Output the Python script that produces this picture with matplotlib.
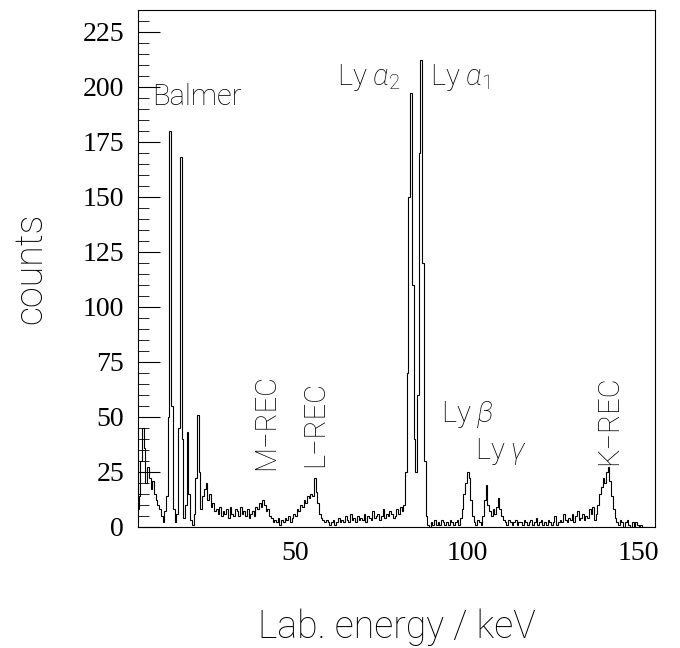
import numpy as np
import matplotlib
matplotlib.use("Agg")
import matplotlib.pyplot as plt
from matplotlib.ticker import MultipleLocator

# spectrum: counts per 0.5 keV bin, first bin starts at 4.0 keV
bin_start = 4.0
bin_width = 0.5
counts = [
    8, 14, 30, 45, 36, 20, 27, 22, 17, 21,        # 4 - 9
    15, 12, 10, 8, 5, 2, 7, 14, 50, 180,          # 9 - 14
    55, 8, 2, 6, 45, 168, 40, 4, 10, 43,          # 14 - 19
    15, 3, 1, 6, 22, 51, 25, 8, 14, 17,           # 19 - 24
    20, 12, 15, 9, 11, 7, 8, 6, 9, 5,             # 24 - 29
    7, 6, 8, 4, 9, 6, 5, 8, 7, 5,                 # 29 - 34
    9, 6, 7, 5, 8, 4, 6, 7, 5, 9,                 # 34 - 39
    8, 11, 9, 12, 10, 7, 8, 5, 4, 2,              # 39 - 44
    3, 2, 4, 1, 3, 2, 4, 3, 5, 2,                 # 44 - 49
    4, 6, 5, 8, 7, 10, 9, 12, 11, 14,             # 49 - 54
    13, 15, 14, 22, 16, 11, 6, 4, 3, 2,           # 54 - 59
    3, 2, 1, 2, 3, 1, 2, 4, 2, 3,                 # 59 - 64
    2, 5, 3, 2, 6, 3, 4, 2, 5, 3,                 # 64 - 69
    4, 3, 6, 2, 5, 4, 3, 7, 4, 5,                 # 69 - 74
    6, 3, 5, 8, 4, 6, 5, 7, 6, 4,                 # 74 - 79
    5, 8, 6, 9, 7, 10, 25, 70, 150, 197,          # 79 - 84
    110, 40, 25, 60, 170, 212, 120, 30, 5, 1,     # 84 - 89
    0, 2, 1, 3, 1, 2, 1, 3, 2, 1,                 # 89 - 94
    2, 1, 3, 2, 1, 2, 3, 1, 4, 8,                 # 94 - 99
    15, 20, 25, 22, 12, 5, 2, 1, 3, 2,            # 99 - 104
    1, 5, 12, 19, 10, 7, 5, 8, 6, 9,              # 104 - 109
    13, 8, 5, 3, 2, 1, 3, 2, 1, 2,                # 109 - 114
    3, 1, 2, 2, 1, 3, 2, 1, 2, 3,                 # 114 - 119
    1, 2, 4, 1, 2, 3, 1, 2, 1, 3,                 # 119 - 124
    2, 1, 2, 5, 1, 2, 3, 2, 6, 3,                 # 124 - 129
    2, 4, 3, 6, 2, 5, 7, 3, 4, 6,                 # 129 - 134
    3, 5, 4, 8, 6, 9, 3, 6, 10, 15,               # 134 - 139
    18, 22, 20, 25, 27, 21, 14, 8, 4, 2,          # 139 - 144
    1, 3, 2, 0, 2, 3, 1, 0, 2, 0,                 # 144 - 149
    2, 1, 0, 1, 0, 0, 0, 0, 0, 0,                 # 149 - 154
]

# line labels
label_text = ["Balmer", r"Ly $\alpha_2$", r"Ly $\alpha_1$", r"Ly $\beta$",
              r"Ly $\gamma$", "M\u2212REC", "L\u2212REC", "K\u2212REC"]
label_x = [8.4, 62.3, 89.2, 92.4, 102.3, 37.4, 51.8, 137.2]
label_y = [189, 197, 197, 44, 27, 26, 27, 28]
label_rot = [0, 0, 0, 0, 0, 90, 90, 90]

edges = bin_start + bin_width * np.arange(len(counts) + 1)

plt.rcParams["mathtext.fontset"] = "custom"
plt.rcParams["mathtext.rm"] = "Roboto:light"
plt.rcParams["mathtext.it"] = "Roboto:italic:light"
sans = ["Roboto", "DejaVu Sans"]

fig = plt.figure(figsize=(6.8, 6.48), dpi=100)
ax = fig.add_axes([0.203, 0.187, 0.76, 0.798])

ax.stairs(counts, edges, color="black", lw=0.8)

ax.set_xlim(4.35, 154.7)
ax.set_ylim(0, 235)

ax.set_xticks([50, 100, 150])
ax.yaxis.set_major_locator(MultipleLocator(25))
ax.yaxis.set_minor_locator(MultipleLocator(5))
ax.tick_params(axis="x", length=0, pad=10)
ax.tick_params(axis="y", which="major", direction="in", length=16, width=0.8, pad=10)
ax.tick_params(axis="y", which="minor", direction="in", length=8, width=0.6)
for lab in ax.get_xticklabels() + ax.get_yticklabels():
    lab.set_family("Liberation Serif")
    lab.set_fontsize(20)
for sp in ax.spines.values():
    sp.set_linewidth(0.8)

ax.set_xlabel("Lab. energy / keV", family=sans, fontweight="light",
              fontsize=27, labelpad=31, color="black")
ax.set_ylabel("counts", family=sans, fontweight="light",
              fontsize=27, labelpad=24, color="black")

for t, x, y, r in zip(label_text, label_x, label_y, label_rot):
    ax.text(x, y, t, rotation=r, family=sans, fontweight="light",
            fontsize=21, ha="left", va="bottom", color="black")

fig.savefig("out.png", dpi=100)
